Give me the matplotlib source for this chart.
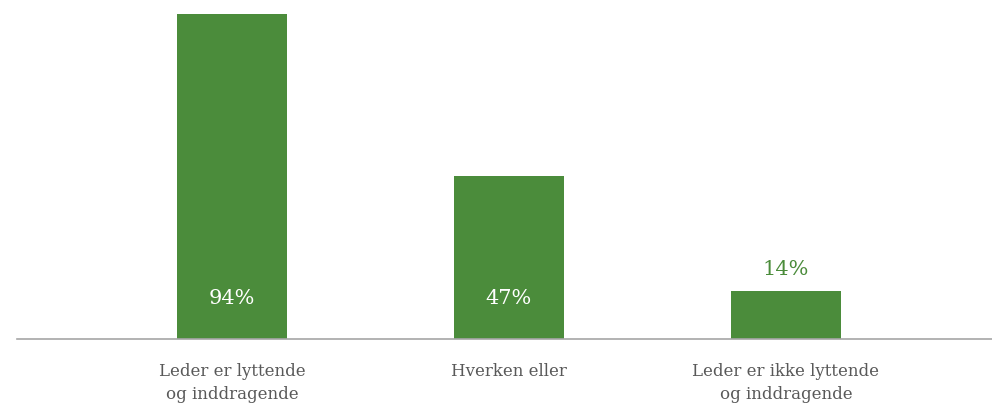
import matplotlib.pyplot as plt

categories = ["Leder er lyttende\nog inddragende", "Hverken eller",
              "Leder er ikke lyttende\nog inddragende"]
values = [94, 47, 14]

green = "#4b8c3b"
plt.rcParams["font.family"] = ["DejaVu Serif"]

fig = plt.figure(figsize=(9.92, 4.05), dpi=100)
ax = fig.add_axes([17 / 992, 66 / 405, 975 / 992, 339 / 405])

x = range(len(values))
bars = ax.bar(x, values, width=0.397, color=green)

ax.set_xlim(-0.776, 2.744)
ax.set_ylim(0, 98)

# Value labels: inside tall bars, above short ones
for xi, v in zip(x, values):
    if v > 30:
        ax.text(xi, 11.8, f"{v}%", ha="center", va="center", color="white", fontsize=15)
    else:
        ax.text(xi, v + 6.2, f"{v}%", ha="center", va="center", color=green, fontsize=15)

ax.set_xticks(list(x))
ax.set_xticklabels(categories, fontsize=12, color="#595959", linespacing=1.5, va="top")
ax.tick_params(axis="x", length=0, pad=17)
ax.set_yticks([])
for side in ["left", "right", "top"]:
    ax.spines[side].set_visible(False)
ax.spines["bottom"].set_color("#a6a6a6")
ax.spines["bottom"].set_linewidth(1.2)

fig.savefig("out.png", dpi=100)
